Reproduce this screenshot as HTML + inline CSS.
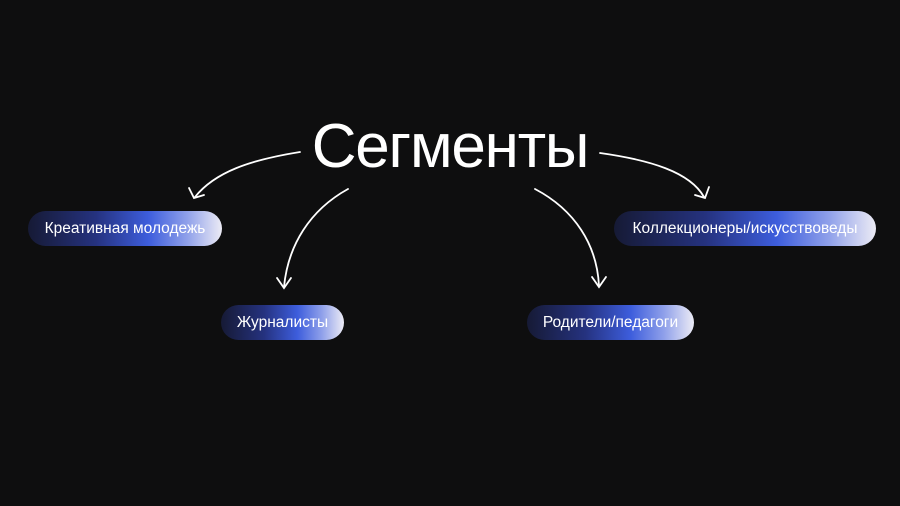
<!DOCTYPE html>
<html><head><meta charset="utf-8"><style>
html,body{margin:0;padding:0;background:#0e0e0f;}
.wrap{position:relative;width:900px;height:506px;overflow:hidden;background:#0e0e0f;font-family:"Liberation Sans",sans-serif;}
.t{position:absolute;left:0;width:900px;top:109px;text-align:center;color:#fff;font-size:62px;letter-spacing:-1.2px;line-height:76px;}
.p{position:absolute;height:35px;border-radius:18px;color:#fff;font-size:15.5px;line-height:35px;text-align:center;
background:linear-gradient(90deg,#161a35 0%,#25327f 35%,#3d5ddc 62%,#8fa0ea 82%,#ecebf5 100%);}
svg{position:absolute;left:0;top:0;}
</style></head><body><div class="wrap">
<div class="t">Сегменты</div>
<svg width="900" height="506" fill="none" stroke="#fff" stroke-width="1.8" stroke-linecap="round">
<path d="M300 152 C250 160 215 172 195 197"/><path d="M189 188 L194 198 L204 195"/>
<path d="M348 189 C310 210 288 245 284 287"/><path d="M277 278 L284 288 L291 278"/>
<path d="M600 153 C650 160 690 172 704 197"/><path d="M695 195 L705 198 L709 187"/>
<path d="M535 189 C575 210 597 245 599 286"/><path d="M592 277 L599 287 L606 277"/>
</svg>
<div class="p" style="left:28px;top:211px;width:194px">Креативная молодежь</div>
<div class="p" style="left:221px;top:305px;width:123px">Журналисты</div>
<div class="p" style="left:527px;top:305px;width:167px">Родители/педагоги</div>
<div class="p" style="left:614px;top:211px;width:262px">Коллекционеры/искусствоведы</div>
</div></body></html>
